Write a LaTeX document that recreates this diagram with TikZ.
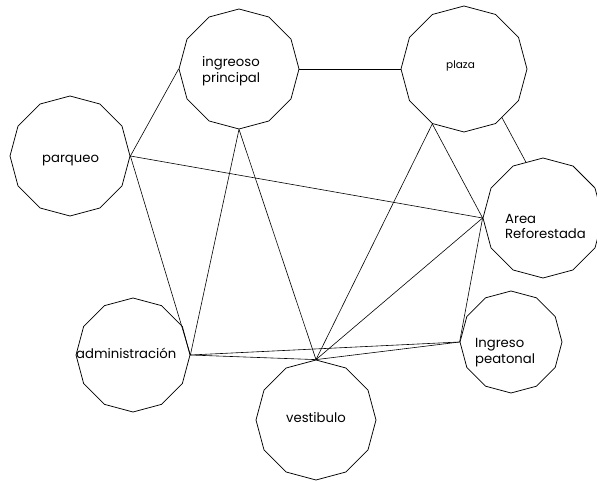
\documentclass[tikz,border=0pt]{standalone}
\usepackage{fontspec}
\setmainfont{Poppins}
\usetikzlibrary{shapes.geometric}
\tikzset{
  room/.style={draw=black, line width=0.75pt, regular polygon, regular polygon sides=12,
    regular polygon rotate=15, inner sep=0pt, minimum size=#1},
  lbl/.style={font=\fontsize{13.2}{15.8}\selectfont, inner sep=0pt, align=left},
  small/.style={font=\fontsize{10.5}{13}\selectfont},
  link/.style={draw=black, line width=0.6pt}
}
\begin{document}
\begin{tikzpicture}[x=1pt,y=-1pt]
\useasboundingbox (0,0) rectangle (597,481);
% rooms
\node[room=120pt] (ip) at (239,69) {};
\node[room=120pt] (pq) at (70,156) {};
\node[room=126pt] (pl) at (464,69) {};
\node[room=120pt] (ar) at (543,218) {};
\node[room=114pt] (ad) at (133,355) {};
\node[room=120pt] (ve) at (316,420) {};
\node[room=102pt] (pe) at (511,342) {};
% labels
\node[lbl, anchor=west] (tip) at (202,71) {ingreoso\\principal};
\node[lbl, anchor=base west] (tpq) at (42,163) {parqueo};
\node[lbl, small, anchor=base west] (tpl) at (446,68.5) {plaza};
\node[lbl, anchor=west] (tar) at (505,226.5) {Area\\Reforestada};
\node[lbl, anchor=base west] (tad) at (76,358.5) {administración};
\node[lbl, anchor=base west] (tve) at (286,422.5) {vestibulo};
\node[lbl, anchor=west] (tpe) at (475,352.5) {Ingreso\\peatonal};
% connections
\draw[link] (pq.0) -- (ip.180);
\draw[link] (pq.0) -- (ar.180);
\draw[link] (pq.0) -- (ad.0);
\draw[link] (ip.0) -- (pl.180);
\draw[link] (ip.-90) -- (ad.0);
\draw[link] (ip.-90) -- (ve.90);
\draw[link] (pl.240) -- (ve.90);
\draw[link] (pl.240) -- (ar.180);
\draw[link] (pl.-52) -- (ar.107);
\draw[link] (ar.180) -- (ve.90);
\draw[link] (ar.180) -- (pe.180);
\draw[link] (ad.0) -- (pe.180);
\draw[link] (ad.0) -- (ve.90);
\draw[link] (ve.90) -- (pe.180);
\end{tikzpicture}
\end{document}
